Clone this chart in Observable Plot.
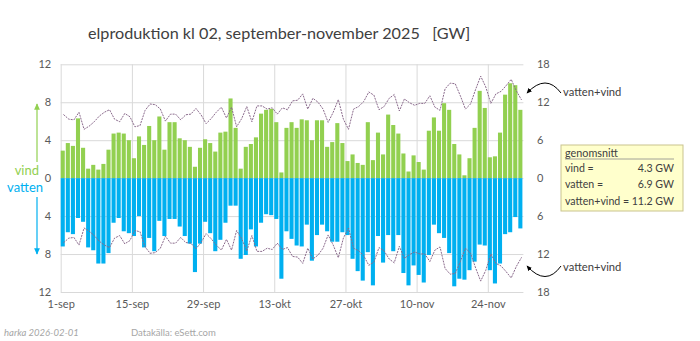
<!DOCTYPE html>
<html><head><meta charset="utf-8">
<script src="https://cdn.jsdelivr.net/npm/d3@7"></script>
<script src="https://cdn.jsdelivr.net/npm/@observablehq/plot@0.6"></script>
<style>
html,body{margin:0;padding:0;background:#fff;}
#chart{width:700px;height:341px;}
</style></head><body><div id="chart"></div>
<script>
// daily values at 02:00, 1 Sep – 30 Nov 2025 [GW]
const vind = [2.9,3.7,3.4,6.3,3.2,1.0,1.4,0.9,1.5,3.0,
  4.7,4.8,4.7,4.0,2.1,4.4,3.5,5.5,4.0,6.5,
  3.0,5.9,5.9,4.2,4.0,3.3,1.2,3.2,4.1,3.7,
  2.8,4.8,4.9,8.4,5.3,1.0,3.3,3.6,4.3,6.8,
  7.2,7.3,5.9,0.6,5.3,5.9,5.3,6.2,6.1,4.0,
  6.1,6.1,3.3,3.8,5.8,3.7,1.8,2.5,1.6,1.4,
  5.9,1.9,4.8,2.5,6.7,5.6,4.7,2.6,0.7,2.4,
  1.7,0.9,5.0,6.4,5.0,7.9,7.2,3.6,2.5,0.3,
  2.1,5.3,9.2,7.4,2.2,2.3,4.8,8.8,10.0,9.8,7.2];
const vatten = [7.2,5.7,5.9,4.2,4.6,7.3,7.6,9.0,9.0,7.9,
  4.7,4.2,5.6,5.8,6.1,4.0,7.3,6.3,7.7,4.5,
  6.1,4.3,4.3,5.1,6.1,6.9,9.9,6.9,4.6,5.8,
  7.7,6.5,4.7,2.9,2.9,8.5,8.1,5.4,7.2,4.7,
  3.8,3.9,4.3,10.6,5.6,6.4,7.1,7.2,4.9,8.7,
  6.0,4.9,5.6,6.7,6.7,5.7,6.0,8.5,9.8,10.8,
  7.8,11.3,6.1,8.9,6.0,7.7,6.0,10.0,11.3,9.2,
  10.2,11.0,8.1,4.9,5.8,6.3,7.9,11.4,10.6,10.7,
  9.7,8.8,7.0,7.1,9.7,11.1,9.0,5.9,5.7,4.1,5.3];
const tickDays = [0,14,28,42,56,70,84];
const tickLabels = ["1-sep","15-sep","29-sep","13-okt","27-okt","10-nov","24-nov"];
const leftTicks = [-12,-8,-4,0,4,8,12];
const rightFactor = 1.5; // right axis (vatten+vind) = 1.5 × left axis
const avgLabels = ["vind =","vatten =","vatten+vind ="];
const avgValues = ["4.3 GW","6.9 GW","11.2 GW"];

const days = vind.map((v,i)=>({i, vind:v, vatten:vatten[i], total:v+vatten[i]}));
const font = "Lato, 'Open Sans', sans-serif";
const green = "#92d050", blue = "#00b0f0", dotc = "#8a6a8c";

const plot = Plot.plot({
  width:700, height:341,
  marginTop:64.3, marginBottom:49, marginLeft:60.7, marginRight:176.6,
  style:{fontFamily:font, fontSize:"11px", color:"#595959", background:"#fff", overflow:"visible"},
  x:{domain:[0,91], axis:null},
  y:{domain:[-12,12], axis:null},
  marks:[
    Plot.gridY(leftTicks,{stroke:"#d9d9d9", strokeOpacity:1}),
    Plot.gridX(tickDays,{stroke:"#d9d9d9", strokeOpacity:1}),
    Plot.rect(days,{x1:"i", x2:d=>d.i+1, y1:0, y2:"vind", fill:green, insetRight:1}),
    Plot.rect(days,{x1:"i", x2:d=>d.i+1, y1:0, y2:d=>-d.vatten, fill:blue, insetRight:1}),
    Plot.line(days,{x:d=>d.i+0.5, y:d=>d.total/rightFactor, stroke:dotc, strokeWidth:1, strokeDasharray:"1.2,1.8"}),
    Plot.line(days,{x:d=>d.i+0.5, y:d=>-d.total/rightFactor, stroke:dotc, strokeWidth:1, strokeDasharray:"1.2,1.8"}),
    Plot.axisY(leftTicks,{anchor:"left", label:null, tickSize:0, tickPadding:10, tickFormat:d=>Math.abs(d), fill:"#595959", fontSize:11}),
    Plot.axisY(leftTicks,{anchor:"right", label:null, tickSize:0, tickPadding:13, tickFormat:d=>Math.abs(d*rightFactor), fill:"#595959", fontSize:11}),
    Plot.axisX(tickDays,{anchor:"bottom", label:null, tickSize:0, tickPadding:8, tickFormat:d=>tickLabels[tickDays.indexOf(d)], fill:"#595959", fontSize:11})
  ]
});
document.getElementById("chart").appendChild(plot);

const svg = d3.select(plot);
const defs = svg.append("defs");
function marker(id, color){
  defs.append("marker").attr("id",id).attr("viewBox","0 0 10 10").attr("refX",8).attr("refY",5)
    .attr("markerWidth",6).attr("markerHeight",6).attr("orient","auto-start-reverse")
    .append("path").attr("d","M0,1 L9,5 L0,9 z").attr("fill",color);
}
marker("ag",green); marker("ab",blue); marker("ak","#000");

function txt(x,y,s,opts={}){
  return svg.append("text").attr("x",x).attr("y",y).attr("font-family",font)
    .attr("font-size",opts.size||11.5).attr("fill",opts.fill||"#404040")
    .attr("text-anchor",opts.anchor||"start").attr("font-style",opts.style||"normal")
    .style("white-space","pre").text(s);
}

txt(88,38.5,"elproduktion kl 02, september-november 2025   [GW]",{size:16.2});

// left legend labels with arrows
txt(39,174.5,"vind",{size:13,fill:green,anchor:"end"});
txt(43,191.5,"vatten",{size:13,fill:blue,anchor:"end"});
svg.append("line").attr("x1",37).attr("x2",37).attr("y1",162).attr("y2",104).attr("stroke",green)
  .attr("stroke-width",1.2).attr("marker-end","url(#ag)");
svg.append("line").attr("x1",37).attr("x2",37).attr("y1",197).attr("y2",254).attr("stroke",blue)
  .attr("stroke-width",1.2).attr("marker-end","url(#ab)");

// right annotations
[[92,"M561,93 Q546,73 527,93"],[267,"M561,266 Q546,287 527,266"]].forEach(([y,p])=>{
  svg.append("path").attr("d",p).attr("fill","none").attr("stroke","#000").attr("stroke-width",1)
    .attr("marker-end","url(#ak)");
  txt(563,y+4,"vatten+vind",{size:11.2});
});

// average box
svg.append("rect").attr("x",561).attr("y",145).attr("width",122).attr("height",66)
  .attr("fill","#ffffcc").attr("stroke","#c9c38e");
txt(565,157,"genomsnitt",{size:10.8});
svg.append("line").attr("x1",565).attr("x2",674).attr("y1",159).attr("y2",159).attr("stroke","#8c8c8c").attr("stroke-width",0.8);
avgLabels.forEach((t,k)=>{
  const y = 171.7 + k*16.6;
  txt(565,y,t,{size:10.6});
  txt(674,y,avgValues[k],{anchor:"end",size:10.6});
});

// footer
txt(4,336,"harka 2026-02-01",{size:9.5,fill:"#a6a6a6",style:"italic"});
txt(131,336,"Datakälla: eSett.com",{size:9.5,fill:"#a6a6a6"});
</script></body></html>
